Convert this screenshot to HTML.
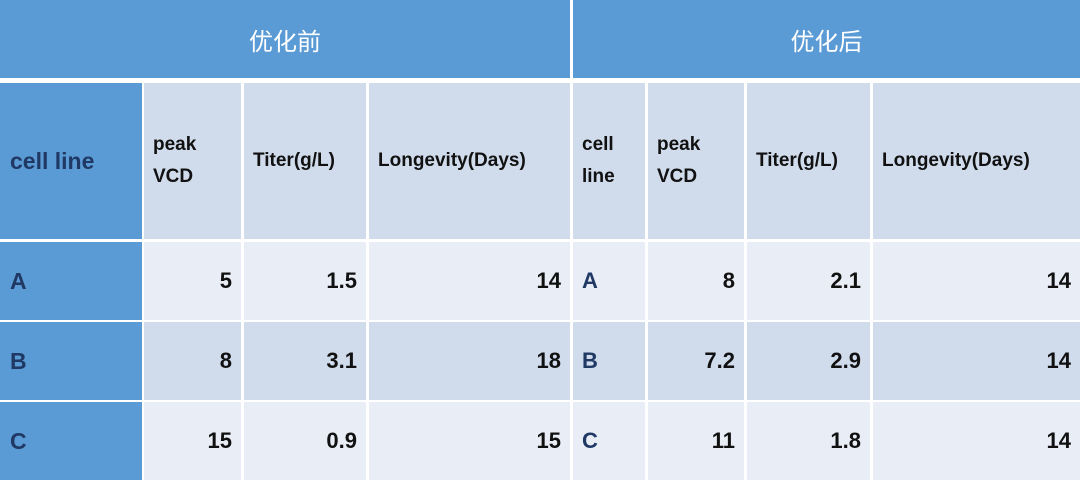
<!DOCTYPE html>
<html><head><meta charset="utf-8"><style>
body{margin:0;width:1080px;height:483px;background:#fff;position:relative;overflow:hidden;font-family:"Liberation Sans","Noto Sans CJK SC",sans-serif;font-weight:bold}
.c{position:absolute;box-sizing:border-box;display:flex;align-items:center;font-size:21px;color:#111}
.t{background:#5B9BD5;color:#fff;justify-content:center;font-size:24px;font-weight:normal}
.b{background:#5B9BD5;color:#1F3864;padding-left:10px;font-size:23px}
.h{background:#D0DCEC;padding-left:9px;font-size:19px;line-height:32px}
.l{background:#E9EEF6}.d{background:#D0DCEC}
.r{justify-content:flex-end;padding-right:9px;font-size:22px}
.k{padding-left:9px;color:#1F3864;font-size:22px}
</style></head><body>
<div class="c t" style="left:0;top:0;width:570px;height:78px">优化前</div>
<div class="c t" style="left:573px;top:0;width:507px;height:78px">优化后</div>
<div class="c b" style="left:0;top:83px;width:142px;height:156px">cell line</div>
<div class="c h" style="left:144px;top:83px;width:97px;height:156px">peak<br>VCD</div>
<div class="c h" style="left:244px;top:83px;width:122px;height:156px">Titer(g/L)</div>
<div class="c h" style="left:369px;top:83px;width:201px;height:156px">Longevity(Days)</div>
<div class="c h" style="left:573px;top:83px;width:72px;height:156px;color:#111">cell<br>line</div>
<div class="c h" style="left:648px;top:83px;width:96px;height:156px">peak<br>VCD</div>
<div class="c h" style="left:747px;top:83px;width:123px;height:156px">Titer(g/L)</div>
<div class="c h" style="left:873px;top:83px;width:207px;height:156px">Longevity(Days)</div>
<div id="rows"></div>
<script>
const cellLines=['A','B','C'];
const before=[[5,'1.5',14],[8,'3.1',18],[15,'0.9',15]];
const after=[[8,'2.1',14],['7.2','2.9',14],[11,'1.8',14]];
const tops=[242,322,402];
const colsB=[[144,97],[244,122],[369,201]];
const colsA=[[648,96],[747,123],[873,207]];
function cell(x,y,w,cls,txt,name){const d=document.createElement('div');d.className='c '+cls;d.style.cssText=`left:${x}px;top:${y}px;width:${w}px;height:78px`;d.textContent=txt;


document.body.appendChild(d);}
cellLines.forEach((n,i)=>{const bg=i===1?'d':'l';const y=tops[i];
cell(0,y,142,'b',n,'cell-line-'+n);
before[i].forEach((v,j)=>cell(colsB[j][0],y,colsB[j][1],bg+' r',v,'before-'+n+'-'+j));
cell(573,y,72,bg+' k',n,'cell-line-after-'+n);
after[i].forEach((v,j)=>cell(colsA[j][0],y,colsA[j][1],bg+' r',v,'after-'+n+'-'+j));});
</script>
</body></html>
